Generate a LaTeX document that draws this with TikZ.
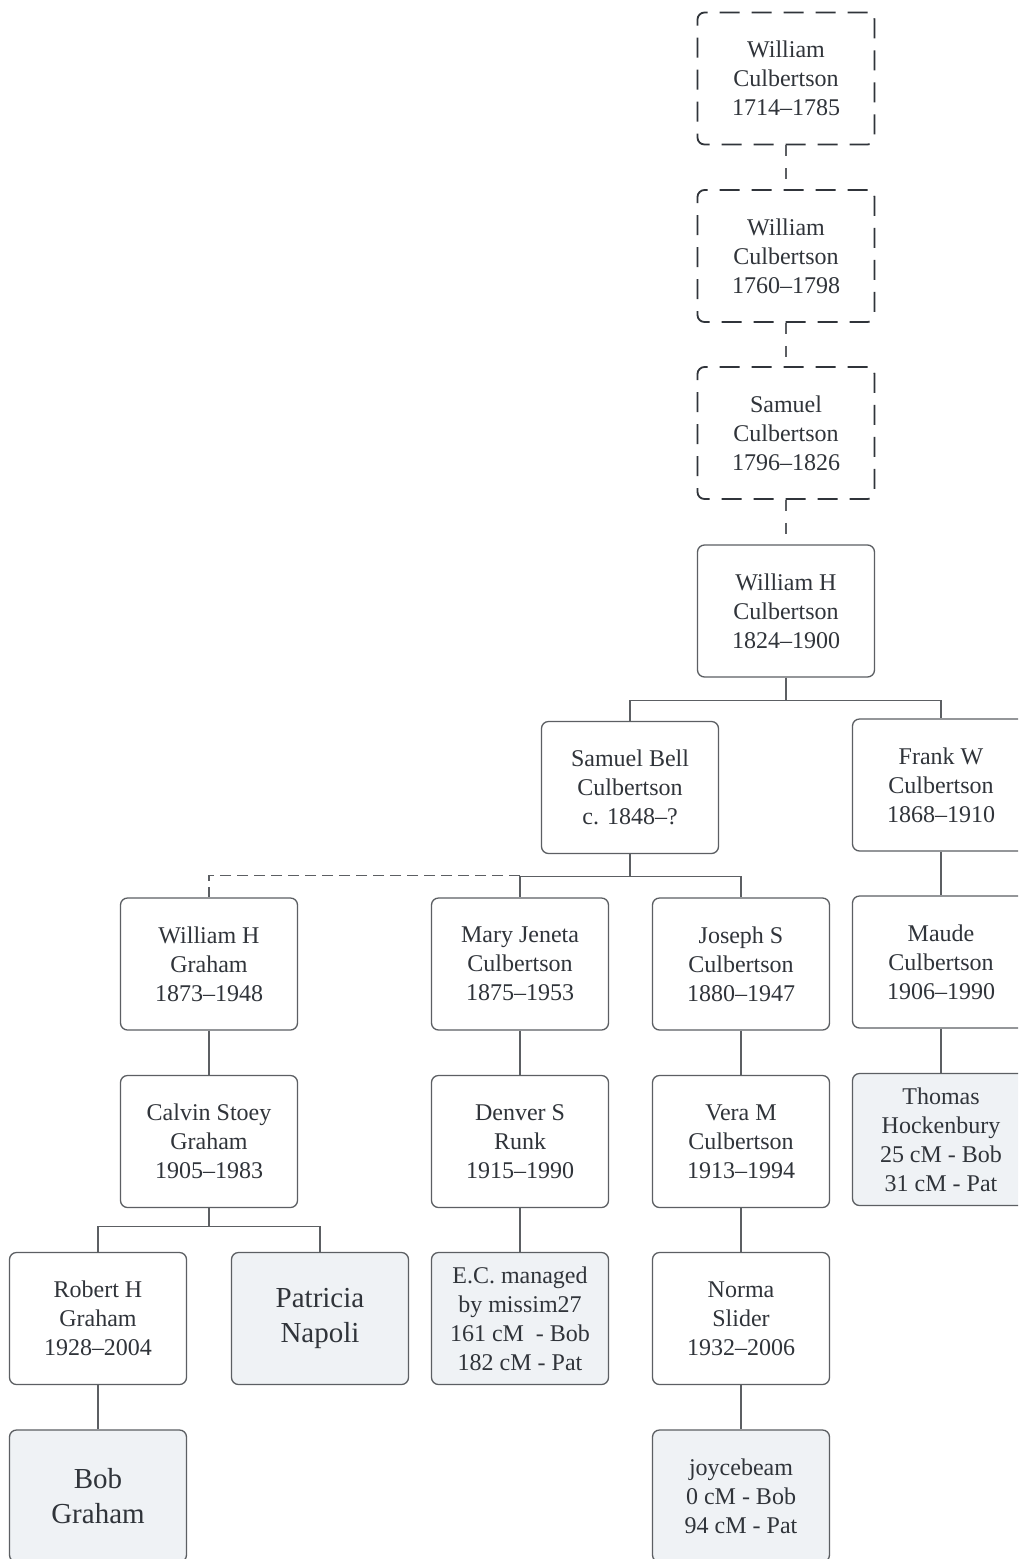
\documentclass[tikz,border=0pt]{standalone}
\usepackage{fontspec}
\setmainfont{Liberation Serif}
\usetikzlibrary{positioning}
\definecolor{inkgray}{HTML}{30343A}
\definecolor{edgegray}{HTML}{5C5F63}
\definecolor{leaffill}{HTML}{EFF2F5}

\begin{document}
\begin{tikzpicture}[
  x=1pt, y=1pt,
  person/.style={draw=edgegray, line width=1.3pt, rounded corners=7pt, fill=white,
    minimum width=177pt, minimum height=132pt, align=center, text=inkgray,
    font=\fontsize{24}{29}\selectfont},
  ancestor/.style={person, draw=inkgray, line width=1.8pt, dash pattern=on 20pt off 12pt},
  dnabox/.style={person, fill=leaffill},
  bigname/.style={dnabox, font=\fontsize{29}{35}\selectfont},
  link/.style={draw=edgegray, line width=1.3pt},
  guess/.style={link, dash pattern=on 11pt off 6pt},
]

% Page
\useasboundingbox (0,0) rectangle (1018,-1559);
\clip (0,0) rectangle (1018,-1559);
\fill[white] (0,0) rectangle (1018,-1559);

% ========================================
% Early line (uncertain)
% ========================================
\node[ancestor] (wc1) at (786,-78.5) {William\\Culbertson\\1714--1785};
\node[ancestor] (wc2) at (786,-256) {William\\Culbertson\\1760--1798};
\node[ancestor] (sc) at (786,-433) {Samuel\\Culbertson\\1796--1826};
\node[person] (whc) at (786,-611) {William H\\Culbertson\\1824--1900};

\draw[link, dash pattern=on 11pt off 12pt] (wc1) -- (wc2);
\draw[link, dash pattern=on 11pt off 12pt] (wc2) -- (sc);
\draw[link, dash pattern=on 11pt off 12pt] (sc) -- (whc);

% ========================================
% Sons
% ========================================
\node[person] (sbc) at (630,-787.5) {Samuel Bell\\Culbertson\\c. 1848--?};
\node[person] (fwc) at (941,-785) {Frank W\\Culbertson\\1868--1910};

\draw[link] (whc.south) -- ++(0,-23) -| (sbc.north);
\draw[link] (whc.south) -- ++(0,-23) -| (fwc.north);

% ========================================
% Grandchildren
% ========================================
\node[person] (whg) at (209,-964) {William H\\Graham\\1873--1948};
\node[person] (mjc) at (520,-964) {Mary Jeneta\\Culbertson\\1875--1953};
\node[person] (jsc) at (741,-964) {Joseph S\\Culbertson\\1880--1947};
\node[person] (mc) at (941,-962) {Maude\\Culbertson\\1906--1990};

\draw[link] (sbc.south) -- ++(0,-22.5) -| (mjc.north);
\draw[link] (sbc.south) -- ++(0,-22.5) -| (jsc.north);
\draw[guess] (mjc.north) ++(0,22) -| (whg.north);
\draw[link] (fwc) -- (mc);

% ========================================
% Next generation
% ========================================
\node[person] (csg) at (209,-1141.5) {Calvin Stoey\\Graham\\1905--1983};
\node[person] (dsr) at (520,-1141.5) {Denver S\\Runk\\1915--1990};
\node[person] (vmc) at (741,-1141.5) {Vera M\\Culbertson\\1913--1994};
\node[dnabox] (th) at (941,-1139.5) {Thomas\\Hockenbury\\25 cM - Bob\\31 cM - Pat};

\draw[link] (whg) -- (csg);
\draw[link] (mjc) -- (dsr);
\draw[link] (jsc) -- (vmc);
\draw[link] (mc) -- (th);

% ========================================
% Bottom rows
% ========================================
\node[person] (rhg) at (98,-1318.5) {Robert H\\Graham\\1928--2004};
\node[bigname] (pn) at (320,-1318.5) {Patricia\\Napoli};
\node[dnabox] (ec) at (520,-1318.5) {E.C. managed\\by missim27\\161 cM~ - Bob\\182 cM - Pat};
\node[person] (ns) at (741,-1318.5) {Norma\\Slider\\1932--2006};

\draw[link] (csg.south) -- ++(0,-18) -| (rhg.north);
\draw[link] (csg.south) -- ++(0,-18) -| (pn.north);
\draw[link] (dsr) -- (ec);
\draw[link] (vmc) -- (ns);

\node[bigname] (bg) at (98,-1496) {Bob\\Graham};
\node[dnabox] (jb) at (741,-1496) {joycebeam\\0 cM - Bob\\94 cM - Pat};

\draw[link] (rhg) -- (bg);
\draw[link] (ns) -- (jb);

\end{tikzpicture}
\end{document}
